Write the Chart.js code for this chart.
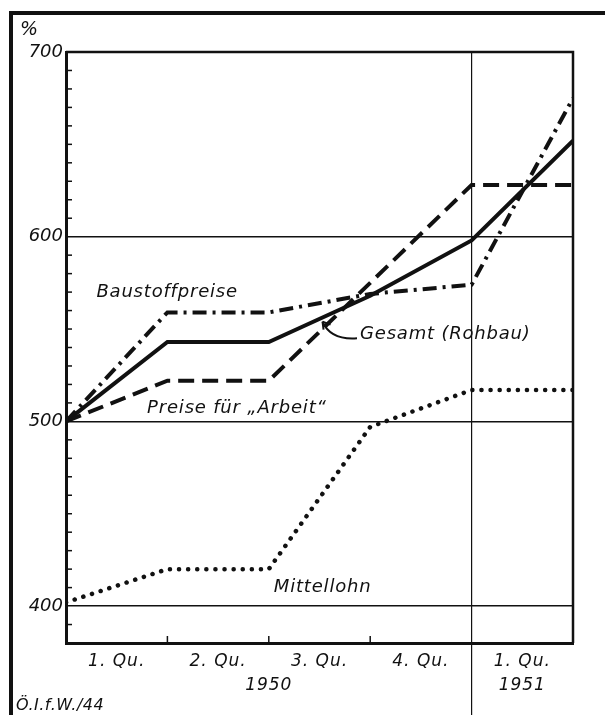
<!DOCTYPE html>
<html>
<head>
<meta charset="utf-8">
<script src="https://cdn.jsdelivr.net/npm/chart.js@4.4.0/dist/chart.umd.min.js"></script>
<style>
html, body { margin: 0; padding: 0; background: #fff; }
</style>
</head>
<body>
<canvas id="chart" width="605" height="715"></canvas>
<script>
// Quartalsgrenzen 1950 / 1951 (0 = Anfang 1. Qu. 1950)
var quarters = [0, 1, 2, 3, 4, 5];
var baustoffpreise = [500, 559, 559, 569, 574, 675];
var gesamtRohbau = [500, 543, 543, 568, 598, 652];
var preiseArbeit = [500, 522, 522, 575, 628, 628];
var mittellohn = [402, 420, 420, 497, 517, 517];

var quarterLabels = ["1. Qu.", "2. Qu.", "3. Qu.", "4. Qu.", "1. Qu."];
var yearLabels = ["1950", "1951"];
var yearPos = [2, 4.5];
var yTicks = [400, 500, 600, 700];

var ink = '#111';
var fam = '"DejaVu Sans", sans-serif';

function pts(vals) {
  return vals.map(function (v, i) { return { x: quarters[i], y: v }; });
}

var extras = {
  id: 'extras',
  beforeDraw: function (chart) {
    var ctx = chart.ctx;
    ctx.save();
    ctx.fillStyle = '#fff';
    ctx.fillRect(0, 0, chart.width, chart.height);
    ctx.restore();
  },
  afterDraw: function (chart) {
    var ctx = chart.ctx, a = chart.chartArea;
    var x = chart.scales.x, y = chart.scales.y;
    ctx.save();
    ctx.strokeStyle = ink;
    ctx.fillStyle = ink;

    // aeusserer Rahmen
    ctx.lineWidth = 4;
    ctx.beginPath();
    ctx.moveTo(11, 715); ctx.lineTo(11, 13); ctx.lineTo(605, 13);
    ctx.stroke();

    // Diagrammrahmen oben / rechts
    ctx.lineWidth = 2.5;
    ctx.beginPath();
    ctx.moveTo(a.left, a.top); ctx.lineTo(a.right, a.top); ctx.lineTo(a.right, a.bottom);
    ctx.stroke();

    // kleine Teilstriche an der y-Achse
    ctx.lineWidth = 1.5;
    for (var v = 390; v < 700; v += 10) {
      if (v % 100 === 0) continue;
      var py = y.getPixelForValue(v);
      ctx.beginPath(); ctx.moveTo(a.left, py); ctx.lineTo(a.left + 6, py); ctx.stroke();
    }
    // Teilstriche an der x-Achse
    [1, 2, 3].forEach(function (q) {
      var px = x.getPixelForValue(q);
      ctx.beginPath(); ctx.moveTo(px, a.bottom); ctx.lineTo(px, a.bottom - 7); ctx.stroke();
    });
    // Jahrestrennung
    ctx.lineWidth = 1.2;
    var px4 = x.getPixelForValue(4);
    ctx.beginPath(); ctx.moveTo(px4, a.top); ctx.lineTo(px4, 715); ctx.stroke();

    // Achsentexte
    ctx.font = 'italic 17px ' + fam;
    ctx.letterSpacing = '1px';
    ctx.textAlign = 'center';
    ctx.textBaseline = 'middle';
    quarterLabels.forEach(function (t, i) {
      ctx.fillText(t, x.getPixelForValue(i + 0.5), 662);
    });
    yearLabels.forEach(function (t, i) {
      ctx.fillText(t, x.getPixelForValue(yearPos[i]), 686);
    });
    ctx.textAlign = 'left';
    ctx.font = 'italic 19px ' + fam;
    ctx.fillText('%', 20, 30);
    ctx.font = 'italic 16px ' + fam;
    ctx.letterSpacing = '0.5px';
    ctx.fillText('Ö.I.f.W./44', 16, 706);

    // Kurvenbeschriftungen
    ctx.font = 'italic 18px ' + fam;
    ctx.letterSpacing = '0.8px';
    ctx.fillText('Baustoffpreise', x.getPixelForValue(0.3), y.getPixelForValue(570));
    ctx.fillText('Preise für „Arbeit“', x.getPixelForValue(0.8), y.getPixelForValue(507));
    ctx.fillText('Gesamt (Rohbau)', x.getPixelForValue(2.9), y.getPixelForValue(547));
    ctx.fillText('Mittellohn', x.getPixelForValue(2.05), y.getPixelForValue(410));
    ctx.letterSpacing = '0px';

    // Pfeil zur Gesamtkurve
    var sx = x.getPixelForValue(2.87), sy = y.getPixelForValue(545);
    var ex = x.getPixelForValue(2.53), ey = y.getPixelForValue(554);
    ctx.lineWidth = 2;
    ctx.beginPath();
    ctx.moveTo(sx, sy);
    ctx.quadraticCurveTo(ex + 8, sy + 2, ex, ey);
    ctx.stroke();
    ctx.beginPath();
    ctx.moveTo(ex, ey); ctx.lineTo(ex + 1, ey + 8);
    ctx.moveTo(ex, ey); ctx.lineTo(ex + 8, ey + 3);
    ctx.stroke();

    ctx.restore();
  }
};

new Chart(document.getElementById('chart'), {
  type: 'line',
  data: {
    datasets: [{
      label: 'Baustoffpreise',
      data: pts(baustoffpreise),
      borderColor: ink,
      borderWidth: 4,
      borderDash: [14, 6, 3, 6],
      pointRadius: 0,
      tension: 0
    }, {
      label: 'Gesamt (Rohbau)',
      data: pts(gesamtRohbau),
      borderColor: ink,
      borderWidth: 4,
      pointRadius: 0,
      tension: 0
    }, {
      label: 'Preise für „Arbeit“',
      data: pts(preiseArbeit),
      borderColor: ink,
      borderWidth: 4,
      borderDash: [16, 8],
      pointRadius: 0,
      tension: 0
    }, {
      label: 'Mittellohn',
      data: pts(mittellohn),
      borderColor: ink,
      borderWidth: 4.5,
      borderDash: [0.1, 9],
      borderCapStyle: 'round',
      pointRadius: 0,
      tension: 0
    }]
  },
  options: {
    responsive: false,
    animation: false,
    layout: { padding: { left: 0, top: 52, right: 32, bottom: 72 } },
    plugins: {
      legend: { display: false },
      tooltip: { enabled: false }
    },
    scales: {
      x: {
        type: 'linear',
        min: 0,
        max: 5,
        ticks: { display: false },
        grid: { display: false },
        border: { display: true, color: ink, width: 3 },
        afterFit: function (s) { s.height = 0; }
      },
      y: {
        min: 380,
        max: 700,
        afterBuildTicks: function (s) {
          s.ticks = yTicks.map(function (v) { return { value: v }; });
        },
        ticks: {
          color: ink,
          font: { family: fam, size: 18, style: 'italic' },
          padding: 3
        },
        grid: {
          drawTicks: false,
          lineWidth: 1.5,
          color: function (c) { return c.tick && c.tick.value < 700 ? ink : 'rgba(0,0,0,0)'; }
        },
        border: { display: true, color: ink, width: 3 },
        afterFit: function (s) { s.width = 66; }
      }
    }
  },
  plugins: [extras]
});
</script>
</body>
</html>
